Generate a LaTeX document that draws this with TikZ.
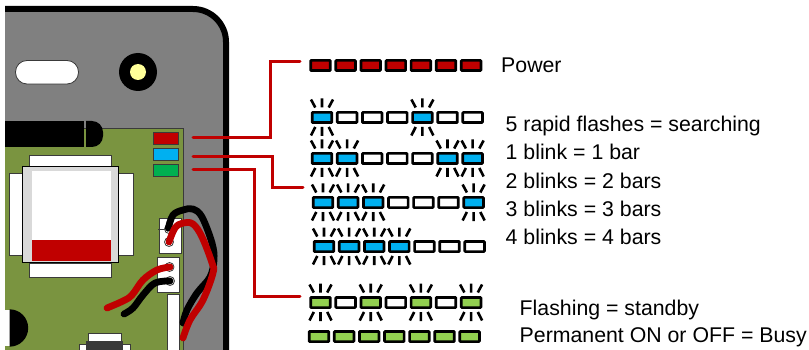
\documentclass[tikz,border=0pt]{standalone}
\usepackage{fontspec}
\setmainfont{Liberation Sans}
\definecolor{ledred}{HTML}{C00000}
\definecolor{ledblue}{HTML}{00B0F0}
\definecolor{ledgreen}{HTML}{92D050}
\definecolor{pcbled}{HTML}{00B050}
\definecolor{pcb}{HTML}{7A9440}
\definecolor{panel}{HTML}{808080}
\definecolor{lamp}{HTML}{FFFF99}
\definecolor{pale}{HTML}{D9D9D9}
\definecolor{edge}{HTML}{3A3A3A}
\tikzset{
 ledbox/.style={draw=black,line width=2.7pt,rounded corners=0.8pt,minimum width=19.6pt,minimum height=10.2pt,inner sep=0pt,outer sep=0pt,fill=white},
 rays/.pic={\draw[black,line width=2.6pt]
   (-11,-18)--(-6.7,-10) (0,-19)--(0,-10) (11,-18)--(6.7,-10)
   (-11,18)--(-6.7,9.5) (0,18.5)--(0,9.5) (11,18)--(6.7,9.5);},
 pcbpart/.style={draw=edge,line width=0.9pt,fill=white},
 boardled/.style={draw=edge,line width=1pt,minimum width=25pt,minimum height=12pt,inner sep=0pt,outer sep=0pt},
 lead/.style={draw=ledred,line width=3pt,line cap=round},
 wire/.style={line width=6.8pt,line cap=round,line join=round},
 caption/.style={anchor=base west,inner sep=0pt,font=\fontsize{21.3}{24}\selectfont}
}
\begin{document}
\begin{tikzpicture}[x=1pt,y=-1pt]
\useasboundingbox (0,0) rectangle (809,350);
\begin{scope}
\clip (5,0) rectangle (809,350);
% panel
\draw[black,line width=6pt,fill=panel] (-20,9) -- (193,9) arc[start angle=-90,end angle=0,radius=33] -- (226,370) -- (-20,370) -- cycle;
\draw[edge,line width=0.8pt,fill=white,rounded corners=11.5pt] (15.5,60.5) rectangle (78.5,84);
\fill[black] (138,72) circle (19);
\fill[lamp] (138,72) circle (8);
% board
\draw[edge,line width=1pt,fill=pcb] (-5,129) -- (183,129) -- (183,360) -- (-5,360) -- cycle;
\fill[black] (0,121) rectangle (84,147);
\fill[black] (86,121) -- (92,121) arc[start angle=-90,end angle=0,radius=11] -- (103,136) arc[start angle=0,end angle=90,radius=11] -- (86,147) -- cycle;
% transformer
\draw[pcbpart] (29,155) rectangle (111,167);
\draw[pcbpart] (9,173) rectangle (133,255);
\draw[black,line width=1pt,fill=pale] (22.5,166.5) rectangle (118.5,262);
\fill[white] (32,171) rectangle (111,240);
\fill[ledred] (32,240) rectangle (111,261);
\draw[pcbpart] (29.5,263) rectangle (111,277);
% sockets
\draw[pcbpart] (159,218) rectangle (181,253);
\draw[edge,line width=0.6pt] (158,229) -- (165,229);
\draw[pcbpart] (157.5,257) rectangle (179,292);
\draw[pcbpart] (167,294) rectangle (179.5,355);
\fill[white] (5,310) rectangle (10,346);
\begin{scope}
\clip (9.5,300) rectangle (40,350);
\fill[black] (9.5,328) circle (18.7);
\end{scope}
% switch
\draw[pcbpart] (88,333) rectangle (121,342);
\draw[pcbpart] (79,344) rectangle (130,352);
\fill[edge] (86,341) rectangle (123,352);
\end{scope}
% pins
\foreach \p/\q in {169/229,169/242,169.5/267,170/281}{\draw[edge,line width=0.8pt,fill=white] (\p,\q) circle (4.5);}
% wires
\draw[wire,black] plot[smooth,tension=0.6] coordinates {(168.3,228.3) (173,215) (183,210) (193,209) (202,217) (212,243) (214,260) (210,277) (197,293) (187,310) (183,323)};
\draw[wire,ledred] plot[smooth,tension=0.6] coordinates {(169,242) (175,228) (183,223) (193,224) (202,237) (212,263) (213,273) (203,300) (190,320) (183,338)};
\draw[wire,ledred] plot[smooth,tension=0.6] coordinates {(170,267) (157,270) (143,280) (132,295) (123,301) (107,308)};
\draw[wire,black] plot[smooth,tension=0.6] coordinates {(170,281) (155,283) (143,295) (133,308) (124,314)};
% board LEDs
\node[boardled,fill=ledred] (ledR) at (165.5,139) {};
\node[boardled,fill=ledblue] (ledB) at (165.5,155) {};
\node[boardled,fill=pcbled] (ledG) at (165.5,171) {};
% strips
\foreach \i in {0,...,6}{
 \node[ledbox,fill=ledred] (pw\i) at ({320.5+25.1*\i},65.5) {};
 \node[ledbox,fill=ledgreen] (bu\i) at ({319+25.1*\i},336.5) {};
}
\foreach \i in {0,...,6}{
 \pgfmathsetmacro\xa{322+25.1*\i}
 \pgfmathtruncatemacro\ona{(\i==0||\i==4)?1:0}
 \ifnum\ona=1 \node[ledbox,fill=ledblue] (sa\i) at (\xa,117.5) {}; \pic at (\xa,117.5) {rays};
 \else \node[ledbox] (sa\i) at (\xa,117.5) {}; \fi
 \pgfmathtruncatemacro\onb{(\i<2||\i>4)?1:0}
 \ifnum\onb=1 \node[ledbox,fill=ledblue] (sb\i) at (\xa,158.5) {}; \pic at (\xa,158.5) {rays};
 \else \node[ledbox] (sb\i) at (\xa,158.5) {}; \fi
 \pgfmathsetmacro\xc{323+25.1*\i}
 \pgfmathtruncatemacro\onc{(\i<3||\i==6)?1:0}
 \ifnum\onc=1 \node[ledbox,fill=ledblue] (sc\i) at (\xc,202.5) {}; \pic at (\xc,202.5) {rays};
 \else \node[ledbox] (sc\i) at (\xc,202.5) {}; \fi
 \pgfmathsetmacro\xd{324+25.1*\i}
 \pgfmathtruncatemacro\ond{(\i<4)?1:0}
 \ifnum\ond=1 \node[ledbox,fill=ledblue] (sd\i) at (\xd,246.5) {}; \pic at (\xd,246.5) {rays};
 \else \node[ledbox] (sd\i) at (\xd,246.5) {}; \fi
 \pgfmathsetmacro\xe{320.5+25.1*\i}
 \pgfmathtruncatemacro\one{(\i==0||\i==2||\i==4||\i==6)?1:0}
 \ifnum\one=1 \node[ledbox,fill=ledgreen] (se\i) at (\xe,302.5) {}; \pic at (\xe,302.5) {rays};
 \else \node[ledbox] (se\i) at (\xe,302.5) {}; \fi
}
% connectors
\coordinate (fromR) at (193,138);
\coordinate (fromB) at (193,157);
\coordinate (fromG) at (193,170);
\coordinate (toP) at (300,62);
\coordinate (toB) at (303,188);
\coordinate (toG) at (300,296);
\draw[lead] (fromR) -- (270,138) -- (270,62) -- (toP);
\draw[lead] (fromB) -- (272,157) -- (272,188) -- (toB);
\draw[lead] (fromG) -- (254,170) -- (254,296) -- (toG);
% captions
\node[caption] (t0) at (501,72.5) {Power};
\node[caption] (t1) at (505.5,132) {5 rapid flashes = searching};
\node[caption] (t2) at (505.5,160) {1 blink = 1 bar};
\node[caption] (t3) at (505.5,188.5) {2 blinks = 2 bars};
\node[caption] (t4) at (505.5,216.7) {3 blinks = 3 bars};
\node[caption] (t5) at (505.5,244.3) {4 blinks = 4 bars};
\node[caption] (t6) at (519.5,315) {Flashing = standby};
\node[caption] (t7) at (519.5,342.7) {Permanent ON or OFF = Busy};
\end{tikzpicture}
\end{document}
